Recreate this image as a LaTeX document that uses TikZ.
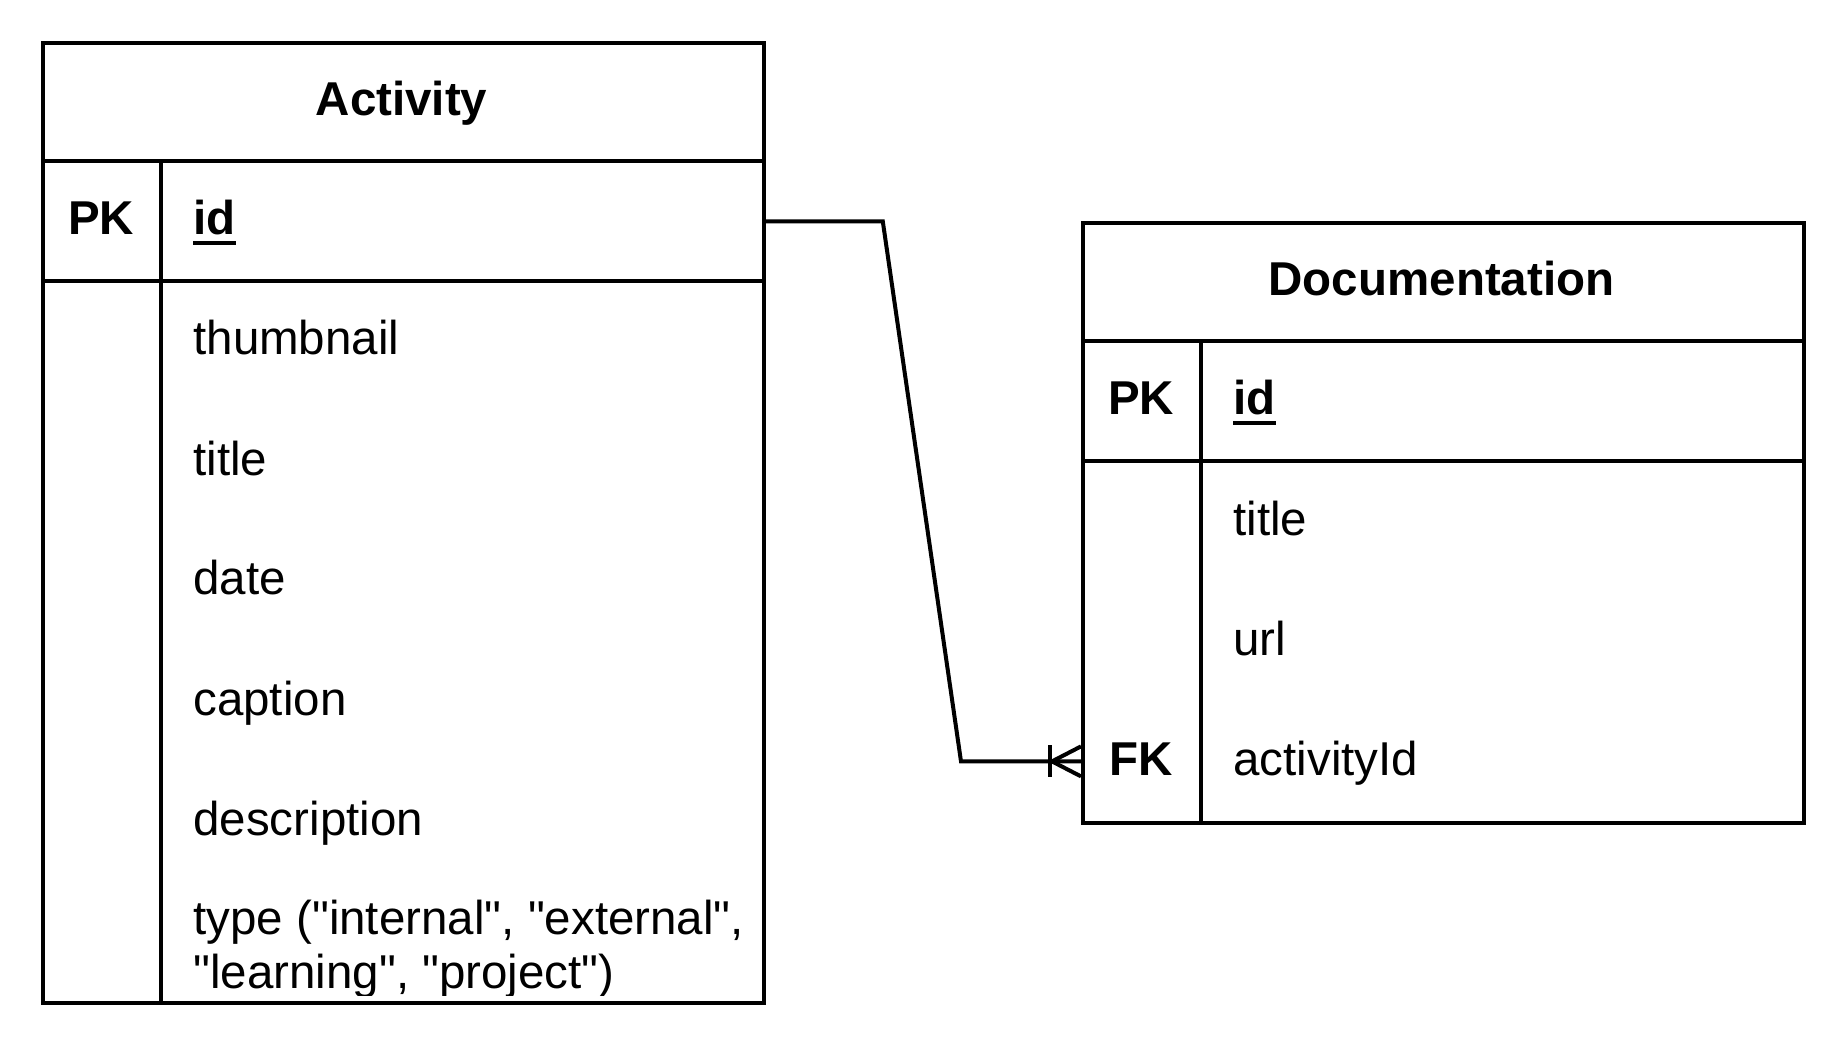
\documentclass[tikz,border=0pt]{standalone}
\usepackage{fontspec}
\setmainfont{Liberation Sans}[Ligatures=TeXOff]
\usetikzlibrary{calc}
\begin{document}
\begin{tikzpicture}[x=0.5pt,y=-0.5pt,
  tablebox/.style={draw, line width=2pt, inner sep=0pt, anchor=north west},
  rowbox/.style={inner sep=0pt, anchor=north west, minimum width=360.5pt, minimum height=60pt},
  grid/.style={line width=2pt},
  ttl/.style={font=\bfseries\fontsize{23.75}{26.65}\selectfont, anchor=base, inner sep=0pt},
  fld/.style={font=\fontsize{23.75}{26.65}\selectfont, anchor=base west, inner sep=0pt},
  keyt/.style={font=\bfseries\fontsize{23.75}{26.65}\selectfont, anchor=base, inner sep=0pt},
  conn/.style={line width=2pt, line join=miter}]
\useasboundingbox (0,0) rectangle (1844,1048);

% ---------- Activity ----------
\node[tablebox, minimum width=360.5pt, minimum height=480pt] (act) at (41,41) {};
\node[rowbox] (acthead) at (41,41) {};
\node[rowbox] (actpk) at (41,161) {};
\draw[grid] (41,161) -- (762,161);
\draw[grid] (41,281) -- (762,281);
\draw[grid] (161,161) -- (161,1001);
\node[ttl] (acttitle) at (401.5,116) {Activity};
\node[keyt] (actpkk) at (101,235) {PK};
\node[fld, font=\bfseries\fontsize{23.75}{26.65}\selectfont] (actid) at (193,235) {id};
\draw[line width=2pt] ([yshift=-3.5pt]actid.south west) -- ([yshift=-3.5pt]actid.south east);
\node[fld] (actthumb) at (193,355) {thumbnail};
\node[fld] (acttitlef) at (193,475) {title};
\node[fld] (actdate) at (193,595) {date};
\node[fld] (actcaption) at (193,715) {caption};
\node[fld] (actdesc) at (193,835) {description};
\begin{scope}
  \clip (163,883) rectangle (760,995);
  \node[fld] (acttype1) at (193,934) {type ("internal", "external",};
  \node[fld] (acttype2) at (193,988) {"learning", "project")};
\end{scope}

% ---------- Documentation ----------
\node[tablebox, minimum width=360.5pt, minimum height=300pt] (doc) at (1081,221) {};
\node[rowbox] (dochead) at (1081,221) {};
\node[rowbox] (docfk) at (1081,701) {};
\draw[grid] (1081,341) -- (1802,341);
\draw[grid] (1081,461) -- (1802,461);
\draw[grid] (1201,341) -- (1201,821);
\node[ttl] (doctitle) at (1441.5,296) {Documentation};
\node[keyt] (docpkk) at (1141,415) {PK};
\node[fld, font=\bfseries\fontsize{23.75}{26.65}\selectfont] (docid) at (1233,415) {id};
\draw[line width=2pt] ([yshift=-3.5pt]docid.south west) -- ([yshift=-3.5pt]docid.south east);
\node[fld] (doctitlef) at (1233,535) {title};
\node[fld] (docurl) at (1233,655) {url};
\node[keyt] (docfkk) at (1141,775) {FK};
\node[fld] (docactid) at (1233,775) {activityId};

% ---------- Relationship ----------
\draw[conn] (actpk.east) -- ++(120,0) -- ([xshift=-60pt]docfk.west) -- (docfk.west);
\draw[conn] ($(docfk.west)+(-31,-16)$) -- ($(docfk.west)+(-31,16)$);
\draw[conn] ($(docfk.west)+(-29,0)$) -- ($(docfk.west)+(0,-15)$);
\draw[conn] ($(docfk.west)+(-29,0)$) -- ($(docfk.west)+(0,15)$);
\end{tikzpicture}
\end{document}
